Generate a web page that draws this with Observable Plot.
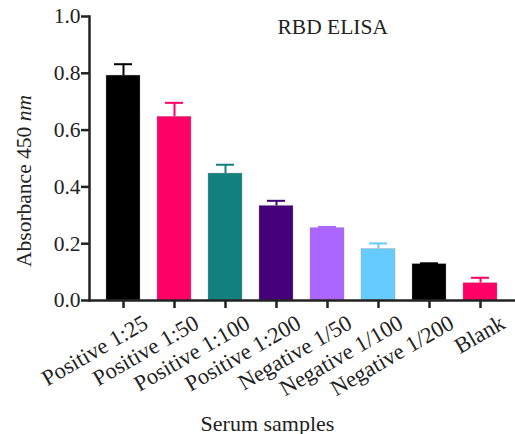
<!DOCTYPE html>
<html>
<head>
<meta charset="utf-8">
<script src="https://cdn.jsdelivr.net/npm/d3@7"></script>
<script src="https://cdn.jsdelivr.net/npm/@observablehq/plot@0.6"></script>
<style>
  body { margin: 0; background: #fff; }
  #chart { position: relative; width: 515px; height: 434px; }
  #chart svg, #chart svg text, #chart svg tspan { font-family: "Liberation Serif", "Times New Roman", serif !important; }
</style>
</head>
<body>
<div id="chart"></div>
<script>
const categories = ["Positive 1:25", "Positive 1:50", "Positive 1:100", "Positive 1:200",
                    "Negative 1/50", "Negative 1/100", "Negative 1/200", "Blank"];
const means = [0.792, 0.647, 0.447, 0.333, 0.255, 0.181, 0.128, 0.061];
const errors = [0.040, 0.049, 0.031, 0.018, 0.004, 0.020, 0.003, 0.019];
const colors = ["#000000", "#ff0066", "#138080", "#430079", "#aa66ff", "#66ccff", "#000000", "#ff0066"];
const yTicks = [0, 0.2, 0.4, 0.6, 0.8, 1.0];
const title = "RBD ELISA";
const xLabel = "Serum samples";

const data = categories.map((c, i) => ({cat: c, mean: means[i], top: means[i] + errors[i], color: colors[i]}));
const ink = "#222";
const serif = "Liberation Serif";

const plot = Plot.plot({
  width: 515,
  height: 434,
  marginTop: 16,
  marginBottom: 134,
  marginLeft: 89,
  marginRight: 0,
  style: {fontFamily: serif, fontSize: "21.5px", color: ink, background: "#fff"},
  x: {domain: categories, paddingInner: 0.33, paddingOuter: 0.335},
  y: {domain: [0, 1]},
  marks: [
    Plot.barY(data, {x: "cat", y: "mean", fill: "color", stroke: "#999", strokeWidth: 0.6, strokeOpacity: 0.6}),
    Plot.ruleX(data, {x: "cat", y1: "mean", y2: "top", stroke: "color", strokeWidth: 2}),
    Plot.tickY(data, {x: "cat", y: "top", stroke: "color", strokeWidth: 2, insetLeft: 8, insetRight: 8}),
    Plot.axisY({ticks: yTicks, tickFormat: d3.format(".1f"), tickSize: 8, tickPadding: 1, strokeWidth: 2.5,
                label: null, fontSize: 21.5, fontFamily: serif}),
    Plot.axisX({tickSize: 8, tickFormat: () => "", strokeWidth: 2.5, label: null}),
    Plot.text(categories, {x: d => d, y: 0, text: d => d, rotate: -30, textAnchor: "end", lineAnchor: "top",
                           dx: 18, dy: 13, fontSize: 22.5, fontFamily: serif, fill: ink}),
    Plot.frame({anchor: "left", strokeWidth: 2.5, stroke: ink}),
    Plot.ruleY([0], {strokeWidth: 2.5, stroke: ink}),
    Plot.text([title], {frameAnchor: "top-left", dx: 188, dy: 17, lineAnchor: "bottom", textAnchor: "start",
                        fontSize: 21.5, fontFamily: serif, fill: ink}),
    Plot.text([xLabel], {frameAnchor: "bottom", dx: -35, dy: 130, lineAnchor: "bottom",
                         fontSize: 22, fontFamily: serif, fill: ink})
  ]
});

document.getElementById("chart").appendChild(plot);

// y-axis label with italic unit
const svg = d3.select(plot);
const yl = svg.append("text")
  .attr("transform", "translate(31,181) rotate(-90)")
  .attr("text-anchor", "middle")
  .attr("font-family", serif)
  .attr("font-size", 21.5)
  .attr("fill", ink);
yl.append("tspan").text("Absorbance 450 ");
yl.append("tspan").attr("font-style", "italic").text("nm");
</script>
</body>
</html>
